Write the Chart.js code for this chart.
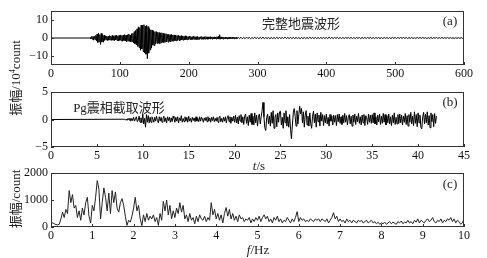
<!DOCTYPE html>
<html>
<head>
<meta charset="utf-8">
<script src="https://cdn.jsdelivr.net/npm/chart.js@4.4.1/dist/chart.umd.min.js"></script>
<style>
body { margin: 0; background: #fff; }
#wrap { position: relative; width: 487px; height: 258px; overflow: hidden; font-family: "Liberation Serif", serif; color: #222; }
canvas { position: absolute; left: 0; }
.lbl { position: absolute; white-space: nowrap; line-height: 1; transform: translate(-50%, -50%); font-size: 13px; }
.cn { font-family: "Liberation Serif", "Noto Sans CJK SC", serif; }
.rot { transform: translate(-50%, -50%) rotate(-90deg); }
sup { font-size: 8px; vertical-align: 5px; }
</style>
</head>
<body>
<div id="wrap">
  <canvas id="chartA" width="487" height="85" style="top:0"></canvas>
  <canvas id="chartB" width="487" height="90" style="top:80px"></canvas>
  <canvas id="chartC" width="487" height="98" style="top:160px"></canvas>

  <div class="lbl cn" style="left:301px;top:23px">完整地震波形</div>
  <div class="lbl" style="left:450px;top:20px">(a)</div>
  <div class="lbl cn" style="left:119px;top:107px">Pg震相截取波形</div>
  <div class="lbl" style="left:450px;top:101px">(b)</div>
  <div class="lbl" style="left:450px;top:183px">(c)</div>
  <div class="lbl" style="left:259px;top:165px"><i>t</i>/s</div>
  <div class="lbl" style="left:258px;top:249px"><i>f</i>/Hz</div>
  <div class="lbl cn rot" style="left:15px;top:78px">振幅/10<sup>4</sup>count</div>
  <div class="lbl cn rot" style="left:15px;top:199px">振幅/count</div>
</div>

<script>
// ---- (a) 完整地震波形, 单位 10^4 count ----
const xTicksA = [0, 100, 200, 300, 400, 500, 600];
const yTicksA = [-10, 0, 10];
const yRangeA = [-15, 15];
// t = 57 .. 270 s, 每 1 s 一个值
const startA1 = 57, stepA1 = 1;
const waveA1 = [
  0.3,-0.4,0.8,-0.7,1.0,-1.2,0.9,-0.8,1.4,-1.6,
  2.2,-2.5,2.8,-2.0,1.9,-3.6,2.6,-2.2,1.8,-2.4,
  1.5,-1.3,1.2,-1.0,1.1,-1.4,0.9,-1.2,1.3,-1.1,
  1.0,-1.3,1.4,-1.2,1.1,-1.5,1.3,-1.0,1.6,-1.4,
  1.2,-1.6,1.5,-1.3,1.7,-1.5,1.4,-1.8,1.6,-1.4,
  1.9,-1.7,1.5,-2.0,1.8,-1.6,2.2,-1.9,1.7,-2.1,
  2.4,-2.0,2.6,-2.8,3.5,-3.2,4.2,-3.8,5.1,-4.6,
  6.2,-5.3,5.8,-6.8,7.2,-6.0,6.9,-7.5,7.4,-8.2,
  6.5,-9.0,7.0,-11.5,6.3,-8.4,5.2,-6.6,4.6,-5.5,
  4.4,-4.0,3.8,-4.2,3.5,-3.3,3.6,-3.0,3.2,-2.9,
  3.0,-3.1,2.8,-2.6,2.9,-2.4,2.6,-2.5,2.3,-2.2,
  2.4,-2.1,2.0,-2.3,2.1,-1.9,1.8,-2.0,1.9,-1.7,
  1.6,-1.8,1.7,-1.5,1.5,-1.6,1.4,-1.3,1.5,-1.4,
  1.2,-1.3,1.3,-1.1,1.1,-1.2,1.0,-1.1,1.2,-0.9,
  0.9,-1.0,0.8,-0.9,1.0,-0.8,0.8,-0.9,0.7,-0.8,
  0.9,-0.7,0.8,-0.8,0.7,-0.9,0.8,-0.7,0.6,-0.8,
  0.7,-0.6,0.8,-0.7,0.6,-0.7,0.7,-0.6,0.8,-0.6,
  0.6,-0.7,0.6,-0.5,0.7,-0.6,0.5,-0.6,0.6,-0.5,
  0.6,-0.5,0.5,-0.6,0.7,-0.5,0.9,-0.6,1.8,-0.7,
  0.6,-0.5,0.5,-0.6,0.5,-0.4,0.5,-0.5,0.4,-0.5,
  0.5,-0.4,0.4,-0.5,0.4,-0.4,0.5,-0.4,0.4,-0.4,
  0.4,-0.4,0.3,-0.4
];
// t = 272 .. 600 s, 每 2 s 一个值
const startA2 = 272, stepA2 = 2;
const waveA2 = [
  0.4,-0.3,0.4,-0.4,0.3,-0.4,0.5,-0.3,0.3,-0.4,
  0.3,-0.3,0.4,-0.3,0.3,-0.4,0.3,-0.3,0.4,-0.3,
  0.3,-0.3,0.3,-0.4,0.3,-0.3,0.3,-0.3,0.4,-0.3,
  0.3,-0.3,0.3,-0.3,0.5,-0.3,0.3,-0.3,0.3,-0.3,
  0.3,-0.3,0.3,-0.3,0.3,-0.4,0.3,-0.3,0.3,-0.3,
  0.3,-0.3,0.4,-0.3,0.3,-0.3,0.3,-0.3,0.3,-0.3,
  0.3,-0.3,0.3,-0.3,0.3,-0.3,0.4,-0.3,0.3,-0.3,
  0.3,-0.2,0.3,-0.3,0.3,-0.3,0.3,-0.3,0.3,-0.2,
  0.3,-0.3,0.3,-0.3,0.3,-0.3,0.3,-0.2,0.3,-0.3,
  0.3,-0.2,0.3,-0.3,0.3,-0.2,0.3,-0.3,0.3,-0.3,
  0.3,-0.2,0.3,-0.3,0.2,-0.3,0.3,-0.2,0.3,-0.3,
  0.2,-0.3,0.3,-0.2,0.3,-0.3,0.3,-0.2,0.3,-0.2,
  0.3,-0.2,0.3,-0.3,0.2,-0.2,0.3,-0.3,0.2,-0.2,
  0.3,-0.2,0.3,-0.2,0.3,-0.2,0.2,-0.3,0.2,-0.2,
  0.3,-0.2,0.2,-0.2,0.3,-0.2,0.2,-0.2,0.3,-0.2,
  0.2,-0.2,0.3,-0.2,0.2,-0.2,0.2,-0.3,0.2,-0.2,
  0.2,-0.2,0.2,-0.2,0.2
];

// ---- (b) Pg震相截取波形 ----
const xTicksB = [0, 5, 10, 15, 20, 25, 30, 35, 40, 45];
const yTicksB = [-5, 0, 5];
const yRangeB = [-5, 5];
// t = 8.0 .. 42.0 s, 每 0.1 s 一个值
const startB = 8, stepB = 0.1;
const waveB = [
  0.05,-0.1,0.1,-0.15,0.2,-0.1,0.25,-0.3,0.2,-0.2,
  0.4,-0.3,0.1,0.5,-0.4,-0.1,0.6,-0.5,0.3,-0.6,
  1.0,-0.8,0.2,-1.4,0.9,-0.5,0.7,-0.6,0.4,-0.5,
  0.5,0.1,-0.5,0.4,-0.3,0.6,-0.2,-0.6,0.5,-0.3,
  0.4,-0.5,0.2,0.6,-0.4,0.3,-0.6,0.5,-0.2,0.4,
  -0.5,0.3,-0.4,0.6,0.2,-0.5,0.4,-0.3,0.5,-0.6,
  0.3,-0.2,0.7,-0.5,0.2,-0.4,0.5,-0.3,0.4,-0.5,
  0.6,-0.3,0.2,-0.5,0.4,-0.2,0.3,-0.4,0.5,-0.3,
  0.2,-0.4,0.5,-0.3,0.4,0.1,-0.5,0.3,-0.2,0.4,
  -0.4,0.5,-0.3,0.3,-0.5,0.4,-0.2,0.5,-0.4,0.2,
  -0.3,0.4,-0.5,0.3,0.6,-0.4,0.2,-0.5,0.4,-0.3,
  0.5,-0.6,0.3,0.7,-0.4,0.5,-0.7,0.4,-0.3,0.6,
  -0.5,0.8,-0.6,0.4,-0.8,0.7,-0.3,0.9,-0.6,0.5,
  -0.9,0.6,1.0,-0.7,0.5,-1.1,0.8,-0.5,1.1,-0.9,
  0.6,-1.0,1.2,-0.6,0.8,-1.2,0.4,1.0,-0.8,0.5,
  1.6,3.1,0.5,-1.5,-2.0,0.3,1.0,-0.8,0.6,-1.2,
  1.3,-0.7,1.6,-1.6,0.4,0.9,-1.3,1.2,-0.5,1.4,
  1.5,-1.0,0.4,-1.6,1.2,-0.6,1.6,-1.2,0.5,-1.4,
  0.9,-1.8,-3.5,-1.0,1.2,2.0,0.6,-1.2,1.6,-0.8,
  0.9,2.4,1.0,2.0,-0.6,1.4,-1.4,0.8,1.6,-1.0,
  0.6,-1.2,1.2,-0.8,-1.6,0.6,1.5,-0.6,1.0,-1.4,
  1.2,-0.4,0.8,-1.2,1.3,-0.3,0.9,-1.1,0.7,-0.6,
  1.0,-0.8,0.4,-1.2,0.9,-0.3,0.6,-1.0,0.8,-0.5,
  0.7,-1.1,0.9,-0.4,1.0,-0.7,0.5,-0.9,0.8,-0.6,
  1.1,-0.5,0.7,-1.0,0.4,0.9,-0.8,0.6,-1.2,0.8,
  -0.5,1.0,-0.9,0.6,-0.4,1.1,-0.7,0.5,-1.0,0.8,
  -0.6,0.9,-1.1,0.7,0.3,-0.9,1.0,-0.5,0.8,-0.7,
  0.9,-0.6,1.2,-0.8,0.5,-1.0,0.8,-0.4,1.0,-0.9,
  0.6,-0.7,1.1,-0.5,0.9,-1.0,0.7,-0.6,1.0,-0.8,
  0.5,-1.1,0.8,-0.6,1.2,-0.9,0.4,-0.8,0.9,-0.7,
  1.0,-0.6,0.8,-1.0,0.6,-0.5,1.1,-0.9,0.7,-1.2,
  0.9,-0.5,1.3,-0.8,0.6,-1.1,1.4,-0.7,0.9,-1.3,
  1.2,-0.6,0.8,-1.4,-1.7,0.5,1.3,-0.8,1.0,-0.6,
  1.4,-1.0,0.7,-1.5,1.2,-0.4,0.9,-1.3,1.1,-0.7,
  0.6
];

// ---- (c) 振幅谱, 单位 count ----
const xTicksC = [0, 1, 2, 3, 4, 5, 6, 7, 8, 9, 10];
const yTicksC = [0, 1000, 2000];
const yRangeC = [0, 2000];
// f = 0 .. 10 Hz, 每 0.04 Hz 一个值
const startC = 0, stepC = 0.04;
const specC = [
  200,150,120,90,80,100,300,550,350,650,500,1350,900,1200,700,800,350,600,250,700,450,900,1100,400,150,
  800,600,1100,1720,1400,300,900,1450,1100,600,1250,500,1350,900,1300,700,550,900,1050,800,400,60,250,180,400,
  700,1100,600,800,300,50,450,200,500,250,400,300,450,200,350,60,500,250,950,600,1000,450,800,300,600,
  350,700,500,900,550,800,300,450,200,500,250,350,120,400,200,450,300,250,400,200,350,250,900,450,650,
  300,500,250,450,150,500,720,400,650,300,500,250,400,200,450,300,350,200,300,250,350,150,300,200,350,
  250,400,200,350,450,300,400,200,300,150,350,250,400,200,300,150,250,200,350,250,150,300,200,350,570,
  200,350,250,300,200,250,200,300,250,200,300,250,300,200,300,250,200,300,150,250,350,530,300,400,200,
  300,200,250,150,300,200,250,150,250,200,150,250,200,250,150,200,250,150,200,250,150,200,120,180,100,
  150,120,180,100,150,200,120,180,140,100,200,150,220,120,180,150,250,150,200,120,250,180,300,150,250,
  200,150,250,300,200,250,350,200,150,250,200,300,150,250,200,300,250,350,200,300,150,250,200,100,150,
  300
];

//-- 把数组变成 {x, y} 点 --
function toPoints(values, start, step) {
    return values.map((v, i) => ({ x: start + i * step, y: v }));
}

//-- 边框 + 向内的刻度线 --
const framePlugin = {
    id: "frame",
    afterDraw(chart) {
        const { ctx, chartArea: a, scales } = chart;
        ctx.save();
        ctx.strokeStyle = "#333";
        ctx.lineWidth = 1;
        ctx.strokeRect(a.left + 0.5, a.top + 0.5, a.right - a.left - 1, a.bottom - a.top - 1);
        ctx.beginPath();
        scales.x.ticks.forEach(t => {
            const px = Math.round(scales.x.getPixelForValue(t.value)) + 0.5;
            ctx.moveTo(px, a.bottom);
            ctx.lineTo(px, a.bottom - 3);
        });
        scales.y.ticks.forEach(t => {
            const py = Math.round(scales.y.getPixelForValue(t.value)) + 0.5;
            ctx.moveTo(a.left, py);
            ctx.lineTo(a.left + 3, py);
        });
        ctx.stroke();
        ctx.restore();
    }
};

const tickFont = { family: "Liberation Serif", size: 12 };
const minus = v => String(v).replace("-", "\u2212");

function makeChart(id, points, xTicks, yTicks, yRange, topPad, axisH, lineColor) {
    return new Chart(document.getElementById(id), {
        type: "line",
        data: {
            datasets: [{
                data: points,
                borderColor: lineColor,
                borderWidth: 1,
                pointRadius: 0,
                tension: 0,
                fill: false
            }]
        },
        options: {
            responsive: false,
            animation: false,
            devicePixelRatio: 1,
            layout: { padding: { left: 0, right: 23, top: topPad, bottom: 0 } },
            plugins: { legend: { display: false }, tooltip: { enabled: false } },
            scales: {
                x: {
                    type: "linear",
                    min: xTicks[0],
                    max: xTicks[xTicks.length - 1],
                    afterBuildTicks: s => { s.ticks = xTicks.map(v => ({ value: v })); },
                    afterFit: s => { s.height = axisH; },
                    grid: { display: false, drawTicks: false },
                    border: { display: false },
                    ticks: { font: tickFont, color: "#111", padding: 2, maxRotation: 0, autoSkip: false, callback: minus }
                },
                y: {
                    min: yRange[0],
                    max: yRange[1],
                    afterBuildTicks: s => { s.ticks = yTicks.map(v => ({ value: v })); },
                    afterFit: s => { s.width = 51; },
                    grid: { display: false, drawTicks: false },
                    border: { display: false },
                    ticks: { font: tickFont, color: "#111", padding: 3, callback: minus }
                }
            }
        },
        plugins: [framePlugin]
    });
}

//-- (a) 起始段为零线 --
const pointsA = [{ x: 0, y: 0 }, { x: startA1 - 1, y: 0 }]
    .concat(toPoints(waveA1, startA1, stepA1))
    .concat(toPoints(waveA2, startA2, stepA2));
const pointsB = [{ x: 0, y: 0 }].concat(toPoints(waveB, startB, stepB));
const pointsC = toPoints(specC, startC, stepC);

makeChart("chartA", pointsA, xTicksA, yTicksA, yRangeA, 11, 20, "#000");
makeChart("chartB", pointsB, xTicksB, yTicksB, yRangeB, 12, 23, "#000");
makeChart("chartC", pointsC, xTicksC, yTicksC, yRangeC, 13, 31, "#222");
</script>
</body>
</html>
